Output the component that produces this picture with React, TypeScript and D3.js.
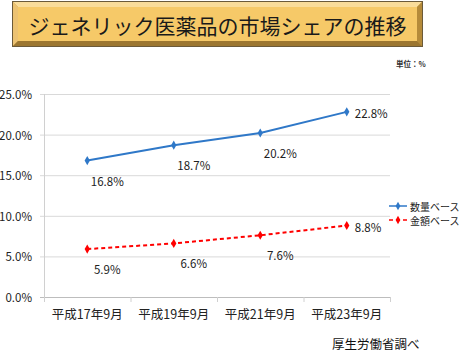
import React, { useEffect, useRef } from 'react';
import * as d3 from 'd3';

const categories = ['平成17年9月', '平成19年9月', '平成21年9月', '平成23年9月'];
const volumeShare = [16.8, 18.7, 20.2, 22.8];
const valueShare = [5.9, 6.6, 7.6, 8.8];
const yTicks = [0, 5, 10, 15, 20, 25];
const seriesNames = ['数量ベース', '金額ベース'];

const W = 460;
const H = 353;
const FONT = '"Noto Sans CJK JP", "Noto Sans", sans-serif';

export default function App() {
  const svgRef = useRef<SVGSVGElement>(null);

  useEffect(() => {
    const svg = d3.select(svgRef.current);
    svg.selectAll('*').remove();
    svg.attr('font-family', FONT);

    // title plate with bevel
    const tx = 12, ty = 1, tw = 411, th = 46, b = 6;
    const plate = svg.append('g');
    plate.append('rect').attr('x', tx).attr('y', ty).attr('width', tw).attr('height', th).attr('fill', '#c79c45');
    plate.append('polygon') // top
      .attr('points', `${tx},${ty} ${tx + tw},${ty} ${tx + tw - b},${ty + b} ${tx + b},${ty + b}`)
      .attr('fill', '#f9dc9a');
    plate.append('polygon') // left
      .attr('points', `${tx},${ty} ${tx + b},${ty + b} ${tx + b},${ty + th - b} ${tx},${ty + th}`)
      .attr('fill', '#ecc272');
    plate.append('polygon') // right
      .attr('points', `${tx + tw},${ty} ${tx + tw},${ty + th} ${tx + tw - b},${ty + th - b} ${tx + tw - b},${ty + b}`)
      .attr('fill', '#b58b3a');
    plate.append('polygon') // bottom
      .attr('points', `${tx},${ty + th} ${tx + b},${ty + th - b} ${tx + tw - b},${ty + th - b} ${tx + tw},${ty + th}`)
      .attr('fill', '#9c7630');
    plate.append('rect').attr('x', tx + b).attr('y', ty + b).attr('width', tw - 2 * b).attr('height', th - 2 * b)
      .attr('fill', '#f6c968');
    plate.append('rect').attr('x', tx + 0.5).attr('y', ty + 0.5).attr('width', tw - 1).attr('height', th - 1)
      .attr('fill', 'none').attr('stroke', '#6b5a3a').attr('stroke-width', 1);
    plate.append('text').attr('x', tx + tw / 2).attr('y', ty + th / 2 + 1)
      .attr('text-anchor', 'middle').attr('dominant-baseline', 'central')
      .attr('font-size', 21).attr('fill', '#1a1a1a')
      .text('ジェネリック医薬品の市場シェアの推移');

    svg.append('text').attr('x', 396).attr('y', 67).attr('font-size', 7.5).attr('font-weight', 'bold')
      .attr('fill', '#333').text('単位：%');

    const left = 44, right = 390, top = 94, bottom = 297;
    const x = d3.scaleBand().domain(categories).range([left, right]);
    const y = d3.scaleLinear().domain([0, 25]).range([bottom, top]);
    const cx = (c: string) => (x(c) as number) + x.bandwidth() / 2;

    // grid
    svg.append('g').selectAll('line').data(yTicks).join('line')
      .attr('x1', left - 4).attr('x2', right)
      .attr('y1', d => y(d) + 0.5).attr('y2', d => y(d) + 0.5)
      .attr('stroke', d => (d === 0 ? '#bdbdbd' : '#d9d9d9')).attr('stroke-width', 1);
    svg.append('line').attr('x1', left + 0.5).attr('x2', left + 0.5).attr('y1', top).attr('y2', bottom + 5)
      .attr('stroke', '#d0d0d0');

    // y axis labels
    svg.append('g').selectAll('text').data(yTicks).join('text')
      .attr('x', 32).attr('y', d => y(d)).attr('text-anchor', 'end').attr('dominant-baseline', 'central')
      .attr('font-size', 11.5).attr('fill', '#222')
      .text(d => d3.format('.1f')(d) + '%');

    // x ticks and labels
    const bounds = categories.map(c => x(c) as number).concat([right]);
    svg.append('g').selectAll('line').data(bounds).join('line')
      .attr('x1', d => d + 0.5).attr('x2', d => d + 0.5).attr('y1', bottom).attr('y2', bottom + 5)
      .attr('stroke', '#d0d0d0');
    svg.append('g').selectAll('text').data(categories).join('text')
      .attr('x', d => cx(d)).attr('y', 313).attr('text-anchor', 'middle').attr('dominant-baseline', 'central')
      .attr('font-size', 12.5).attr('fill', '#222').text(d => d);

    const series = [
      { name: seriesNames[0], values: volumeShare, color: '#2f78c8', dash: null as string | null },
      { name: seriesNames[1], values: valueShare, color: '#ff0000', dash: '4,3' },
    ];
    const line = d3.line<number>().x((_, i) => cx(categories[i])).y(d => y(d));
    const diamond = d3.symbol().type(d3.symbolDiamond).size(24);

    series.forEach(s => {
      svg.append('path').attr('d', line(s.values)).attr('fill', 'none')
        .attr('stroke', s.color).attr('stroke-width', 2)
        .attr('stroke-dasharray', s.dash);
      svg.append('g').selectAll('path').data(s.values).join('path')
        .attr('d', diamond).attr('fill', s.color)
        .attr('transform', (d, i) => `translate(${cx(categories[i])},${y(d)})`);
      svg.append('g').selectAll('text').data(s.values).join('text')
        .attr('x', (d, i) => cx(categories[i]) + (i === s.values.length - 1 ? 8 : 20))
        .attr('y', (d, i) => y(d) + (i === s.values.length - 1 ? 1 : 20))
        .attr('text-anchor', (d, i) => (i === s.values.length - 1 ? 'start' : 'middle'))
        .attr('dominant-baseline', 'central')
        .attr('font-size', 11.5).attr('fill', '#222')
        .text(d => d3.format('.1f')(d) + '%');
    });

    // legend
    const lg = svg.append('g');
    series.forEach((s, i) => {
      const ly = 206 + i * 14;
      lg.append('line').attr('x1', 389).attr('x2', 407).attr('y1', ly).attr('y2', ly)
        .attr('stroke', s.color).attr('stroke-width', 1.5).attr('stroke-dasharray', s.dash);
      lg.append('path').attr('d', d3.symbol().type(d3.symbolDiamond).size(20)()).attr('fill', s.color)
        .attr('transform', `translate(398,${ly})`);
      lg.append('text').attr('x', 410).attr('y', ly).attr('dominant-baseline', 'central')
        .attr('font-size', 10).attr('fill', '#222').text(s.name);
    });

    svg.append('text').attr('x', 332).attr('y', 343).attr('dominant-baseline', 'central')
      .attr('font-size', 12.5).attr('fill', '#111').text('厚生労働省調べ');
  }, []);

  return (
    <div style={{ position: 'fixed', left: 0, top: 0, width: W, height: H, background: '#fff' }}>
      <svg ref={svgRef} width={W} height={H}></svg>
    </div>
  );
}
